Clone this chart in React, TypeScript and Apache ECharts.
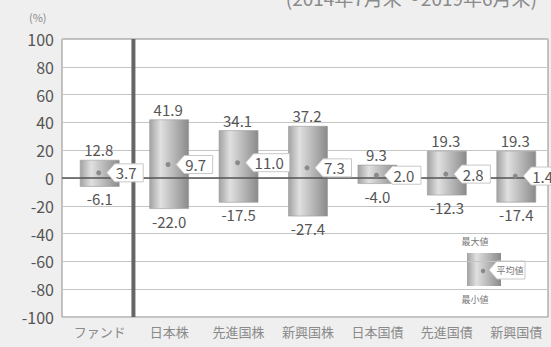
import React, { useEffect, useRef } from "react";
import * as echarts from "echarts";

// Asset classes along the x axis
const categories = ["ファンド", "日本株", "先進国株", "新興国株", "日本国債", "先進国債", "新興国債"];
// Annual returns (%): maximum, average and minimum
const maxValues = [12.8, 41.9, 34.1, 37.2, 9.3, 19.3, 19.3];
const avgValues = [3.7, 9.7, 11.0, 7.3, 2.0, 2.8, 1.4];
const minValues = [-6.1, -22.0, -17.5, -27.4, -4.0, -12.3, -17.4];

const periodText = "(2014年7月末～2019年6月末)";
const unitText = "(%)";
const legendMax = "最大値";
const legendAvg = "平均値";
const legendMin = "最小値";

const FONT = '"Noto Sans CJK JP", "Noto Sans", sans-serif';
const BAR_W = 39;
const BAR_SHIFT = 3;

const fmt = (v: number) => v.toFixed(1);

const barFill = () =>
  new echarts.graphic.LinearGradient(0, 0, 1, 0, [
    { offset: 0, color: "#a2a2a2" },
    { offset: 0.28, color: "#e0e0e0" },
    { offset: 1, color: "#8a8a8a" },
  ]);

// Left-pointing tag holding the average value
const tagPoints = (tipX: number, y: number, w: number, h: number) => [
  [tipX, y],
  [tipX + 8, y - h / 2],
  [tipX + w, y - h / 2],
  [tipX + w, y + h / 2],
  [tipX + 8, y + h / 2],
];

export default function App() {
  const ref = useRef<HTMLDivElement>(null);

  useEffect(() => {
    document.body.style.margin = "0";
    const chart = echarts.init(ref.current!, null, { renderer: "svg" });
    const data = categories.map((_, i) => [i, maxValues[i], avgValues[i], minValues[i]]);

    chart.setOption({
      animation: false,
      backgroundColor: "#efefef",
      textStyle: { fontFamily: FONT },
      grid: {
        left: 62,
        right: 3,
        top: 39,
        bottom: 30,
        show: true,
        backgroundColor: "#ffffff",
        borderColor: "#8c8c8c",
        borderWidth: 1,
      },
      xAxis: {
        type: "category",
        data: categories,
        axisLine: { show: false },
        axisTick: { show: false },
        axisLabel: {
          color: "#8a8a8a",
          fontSize: 13,
          margin: 8,
          padding: [0, 0, 0, 6],
          fontFamily: FONT,
        },
      },
      yAxis: {
        type: "value",
        min: -100,
        max: 100,
        interval: 20,
        axisLine: { show: false },
        axisTick: { show: false },
        axisLabel: { color: "#555", fontSize: 16, margin: 8, fontFamily: FONT },
        splitLine: { lineStyle: { color: "#c4c4c4", width: 1 } },
      },
      graphic: [
        {
          type: "text",
          right: 14,
          top: -12,
          style: { text: periodText, fill: "#8a8a8a", fontSize: 19, fontFamily: FONT },
        },
        {
          type: "text",
          left: 29,
          top: 11,
          style: { text: unitText, fill: "#8a8a8a", fontSize: 11, fontFamily: FONT },
        },
        // legend box
        {
          type: "group",
          left: 458,
          top: 233,
          z: 10,
          children: [
            { type: "rect", shape: { x: 0, y: 0, width: 80, height: 75 }, style: { fill: "#fff" } },
            {
              type: "text",
              x: 17,
              y: 8,
              style: { text: legendMax, fill: "#777", fontSize: 9, fontFamily: FONT, align: "center", verticalAlign: "middle" },
            },
            {
              type: "rect",
              shape: { x: 9, y: 20, width: 34, height: 33 },
              style: { fill: barFill() },
            },
            { type: "circle", shape: { cx: 25, cy: 38, r: 2.2 }, style: { fill: "#888" } },
            {
              type: "polygon",
              shape: { points: tagPoints(31, 37, 36, 18) },
              style: { fill: "#fff", stroke: "#c8c8c8", lineWidth: 1 },
            },
            {
              type: "text",
              x: 52,
              y: 37,
              style: { text: legendAvg, fill: "#777", fontSize: 9, fontFamily: FONT, align: "center", verticalAlign: "middle" },
            },
            {
              type: "text",
              x: 17,
              y: 66,
              style: { text: legendMin, fill: "#777", fontSize: 9, fontFamily: FONT, align: "center", verticalAlign: "middle" },
            },
          ],
        },
      ],
      series: [
        {
          type: "custom",
          name: "range",
          z: 2,
          data,
          clip: false,
          renderItem: (params: any, api: any) => {
            const i = api.value(0);
            const top = api.coord([i, api.value(1)]);
            const bot = api.coord([i, api.value(3)]);
            const cx = top[0] + BAR_SHIFT;
            return {
              type: "group",
              children: [
                {
                  type: "rect",
                  shape: { x: cx - BAR_W / 2, y: top[1], width: BAR_W, height: bot[1] - top[1] },
                  style: { fill: barFill(), stroke: "#9a9a9a", lineWidth: 0.6 },
                },
                {
                  type: "text",
                  x: cx - 1,
                  y: top[1] - 3,
                  style: {
                    text: fmt(api.value(1)),
                    fill: "#555",
                    fontSize: 15,
                    fontFamily: FONT,
                    align: "center",
                    verticalAlign: "bottom",
                  },
                },
                {
                  type: "text",
                  x: cx,
                  y: bot[1] + 5,
                  style: {
                    text: fmt(api.value(3)),
                    fill: "#555",
                    fontSize: 15,
                    fontFamily: FONT,
                    align: "center",
                    verticalAlign: "top",
                  },
                },
              ],
            };
          },
        },
        {
          type: "custom",
          name: "average",
          z: 4,
          data,
          clip: false,
          renderItem: (params: any, api: any) => {
            const i = api.value(0);
            const avg = api.value(2);
            const p = api.coord([i, avg]);
            const cx = p[0] + BAR_SHIFT;
            const label = fmt(avg);
            const w = 14 + label.length * 7.5;
            const children: any[] = [];
            if (i === 0) {
              const cs = params.coordSys;
              const band = api.size([1, 0])[0];
              const zeroY = api.coord([0, 0])[1];
              const sepX = p[0] + band / 2 + 2;
              children.push({
                type: "line",
                shape: { x1: sepX, y1: cs.y, x2: sepX, y2: cs.y + cs.height },
                style: { stroke: "#666", lineWidth: 4 },
              });
              children.push({
                type: "line",
                shape: { x1: cs.x, y1: zeroY, x2: cs.x + cs.width, y2: zeroY },
                style: { stroke: "#555", lineWidth: 1.5 },
              });
            }
            children.push(
              { type: "circle", shape: { cx: cx - 1, cy: p[1], r: 2.5 }, style: { fill: "#8a8a8a" } },
              {
                type: "polygon",
                shape: { points: tagPoints(cx + 7, p[1], w, 18) },
                style: { fill: "#fff", stroke: "#c8c8c8", lineWidth: 1 },
              },
              {
                type: "text",
                x: cx + 16,
                y: p[1],
                style: {
                  text: label,
                  fill: "#555",
                  fontSize: 15,
                  fontFamily: FONT,
                  align: "left",
                  verticalAlign: "middle",
                },
              }
            );
            return { type: "group", children };
          },
        },
      ],
    });

    return () => chart.dispose();
  }, []);

  return (
    <div
      ref={ref}
      style={{ position: "fixed", left: 0, top: 0, width: 551, height: 347 }}
    />
  );
}
